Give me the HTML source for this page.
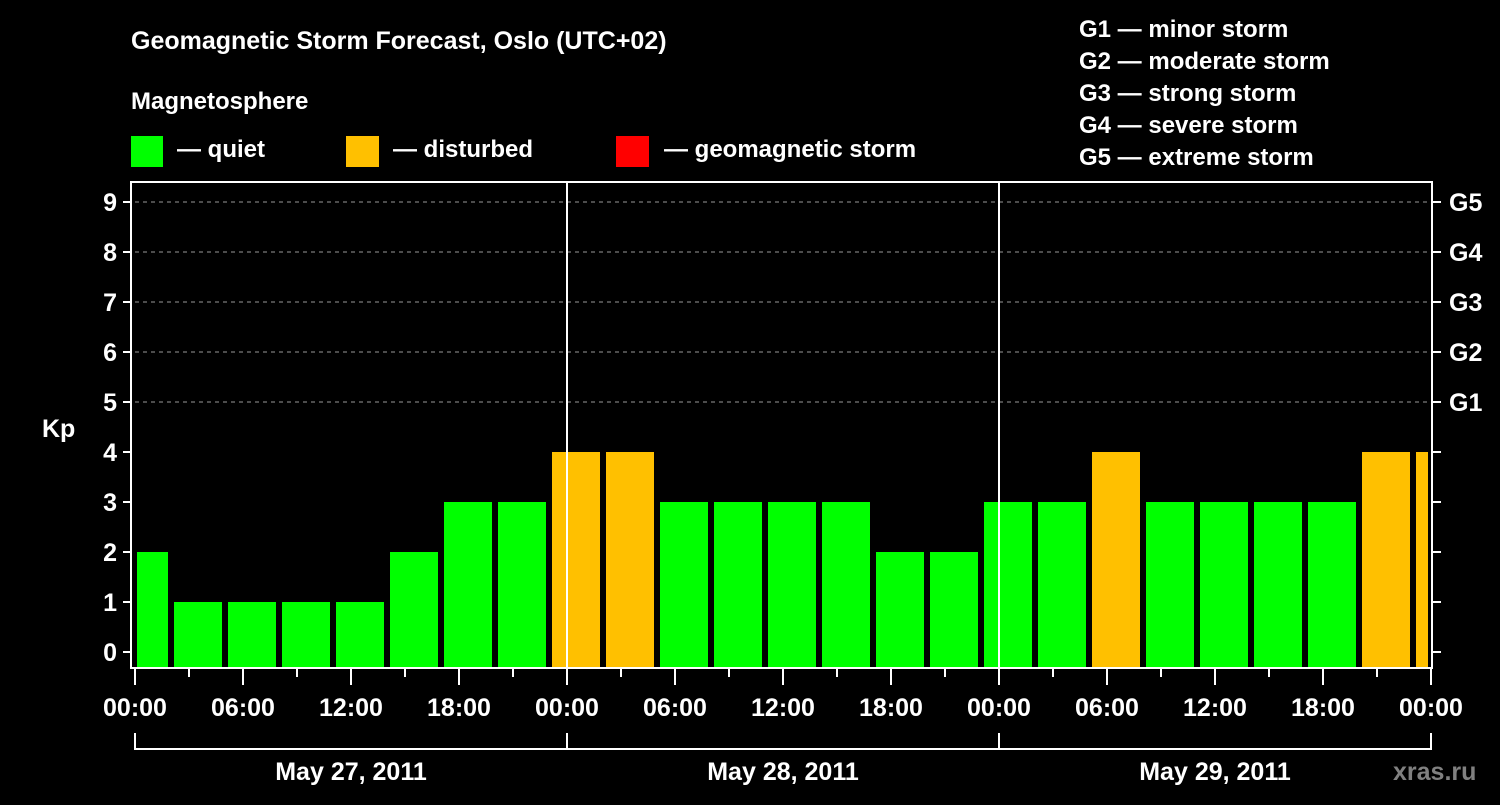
<!DOCTYPE html>
<html><head><meta charset="utf-8"><style>
body{margin:0;background:#000;width:1500px;height:800px;overflow:hidden}
svg text{font-family:"Liberation Sans",Arial,sans-serif;font-weight:bold;fill:#fff}
</style></head><body>
<svg id="chart" width="1500" height="800" viewBox="0 0 1500 800" xmlns="http://www.w3.org/2000/svg">
<rect width="1500" height="800" fill="#000"/>
<text x="131" y="49" font-size="25">Geomagnetic Storm Forecast, Oslo (UTC+02)</text>
<text x="131" y="109" font-size="24">Magnetosphere</text>
<g><rect x="131" y="136" width="32" height="31" fill="#00ff00"/><text x="177" y="157" font-size="24">— quiet</text></g>
<g><rect x="346" y="136" width="33" height="31" fill="#ffc000"/><text x="393" y="157" font-size="24">— disturbed</text></g>
<g><rect x="616" y="136" width="33" height="31" fill="#ff0000"/><text x="664" y="157" font-size="24">— geomagnetic storm</text></g>
<g font-size="24">
<text x="1079" y="37">G1 — minor storm</text>
<text x="1079" y="69">G2 — moderate storm</text>
<text x="1079" y="101">G3 — strong storm</text>
<text x="1079" y="133">G4 — severe storm</text>
<text x="1079" y="165">G5 — extreme storm</text>
</g>
<text x="42" y="437" font-size="25">Kp</text>
<g id="grid"></g><g id="bars"></g><g id="axes"></g>
<text x="1393" y="780" font-size="25" style="fill:#808080">xras.ru</text>
</svg>
<script>
const kpValues=[2,1,1,1,1,2,3,3,4,4,3,3,3,3,2,2,3,3,4,3,3,3,3,4,4];
const dayLabels=["May 27, 2011","May 28, 2011","May 29, 2011"];
const hourLabels=["00:00","06:00","12:00","18:00"];
const gLabels=["G1","G2","G3","G4","G5"];
const kpTicks=[0,1,2,3,4,5,6,7,8,9];
const utcOffset=2;
const X0=135,PX_PER_H=18,Y0=652,PX_PER_KP=50,TOP=182,BOT=667,RIGHT=1431;
const NS="http://www.w3.org/2000/svg";
const xs=h=>X0+h*PX_PER_H, ys=v=>Y0-v*PX_PER_KP;
function mk(tag,a,parent){const e=document.createElementNS(NS,tag);for(const k in a)e.setAttribute(k,a[k]);document.getElementById(parent).appendChild(e);return e;}
// grid
for(let v=5;v<=9;v++){const l=mk('line',{x1:X0,x2:RIGHT,y1:ys(v),y2:ys(v),stroke:'#999','stroke-dasharray':'4,4','stroke-width':1},'grid');

}
// bars
const totalH=dayLabels.length*24;
kpValues.forEach((v,i)=>{
 let h0=(i-1)*3+utcOffset, h1=h0+3;
 let a=xs(Math.max(h0,0))+(h0<0?2:3), b=xs(Math.min(h1,totalH))-3;
 const r=mk('rect',{x:a,y:ys(v),width:b-a,height:BOT-ys(v),fill:v>=5?'#ff0000':(v>=4?'#ffc000':'#00ff00')},'bars');
 
 
});
// day separators
for(let d=1;d<dayLabels.length;d++){const l=mk('line',{x1:xs(d*24),x2:xs(d*24),y1:TOP,y2:BOT,stroke:'#fff','stroke-width':2},'axes');

}
// frame
const f=mk('rect',{x:131,y:TOP,width:RIGHT+1-131,height:BOT+1-TOP,fill:'none',stroke:'#fff','stroke-width':2},'axes');


// y ticks
kpTicks.forEach(v=>{
 mk('line',{x1:123,x2:131,y1:ys(v),y2:ys(v),stroke:'#fff','stroke-width':2},'axes');
 mk('line',{x1:RIGHT+1,x2:1441,y1:ys(v),y2:ys(v),stroke:'#fff','stroke-width':2},'axes');
 const t=mk('text',{x:117,y:ys(v)+9,'font-size':25,'text-anchor':'end'},'axes');t.textContent=v;
 
 
 if(v>=5){const g=mk('text',{x:1449,y:ys(v)+9,'font-size':25},'axes');g.textContent=gLabels[v-5];
 
 }
});
// x ticks
for(let h=0;h<=totalH;h+=3){
 const major=h%6===0;
 mk('line',{x1:xs(h),x2:xs(h),y1:669,y2:major?685:677,stroke:'#fff','stroke-width':2},'axes');
 if(major){const t=mk('text',{x:xs(h),y:716,'font-size':25,'text-anchor':'middle'},'axes');t.textContent=hourLabels[(h%24)/6];
 
 }
}
// day brackets
dayLabels.forEach((d,i)=>{
 const a=xs(i*24),b=xs((i+1)*24);
 mk('path',{d:`M${a},733 V749 H${b} V733`,fill:'none',stroke:'#fff','stroke-width':2},'axes');
 const t=mk('text',{x:(a+b)/2,y:780,'font-size':25,'text-anchor':'middle'},'axes');t.textContent=d;
 
 
});
</script>
</body></html>
